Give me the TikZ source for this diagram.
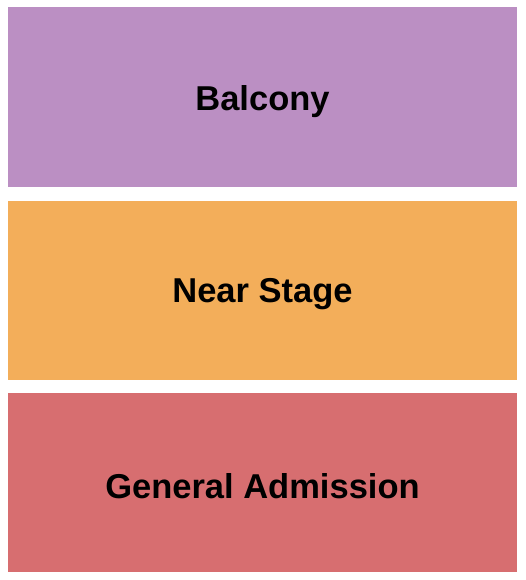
\documentclass[tikz,border=0pt]{standalone}
\usepackage{fontspec}
\setmainfont{Liberation Sans}
\usepackage{tikz}
\definecolor{balconyc}{RGB}{187,143,195}
\definecolor{stagec}{RGB}{243,174,90}
\definecolor{generalc}{RGB}{215,110,112}

\begin{document}
\begin{tikzpicture}[x=1pt, y=-1pt,
      section/.style={draw=none, inner sep=0pt, outer sep=0pt},
      label/.style={anchor=base, inner sep=0pt,
        font=\fontsize{34.5}{40}\selectfont\bfseries}]
      \useasboundingbox (0,0) rectangle (525,580);

      \foreach \y/\b/\al/\col/\lab in {%
        7.5/111/balc/balconyc/Balcony,%
        201/302/near/stagec/Near Stage,%
        393/498/gen/generalc/General Admission%
      }{ \path[section, fill=\col] (8,\y) rectangle (517,\y+179) coordinate (\al-se);
         \node[label] (\al) at (262.5,\b) {\lab}; }
    \end{tikzpicture}
\end{document}
